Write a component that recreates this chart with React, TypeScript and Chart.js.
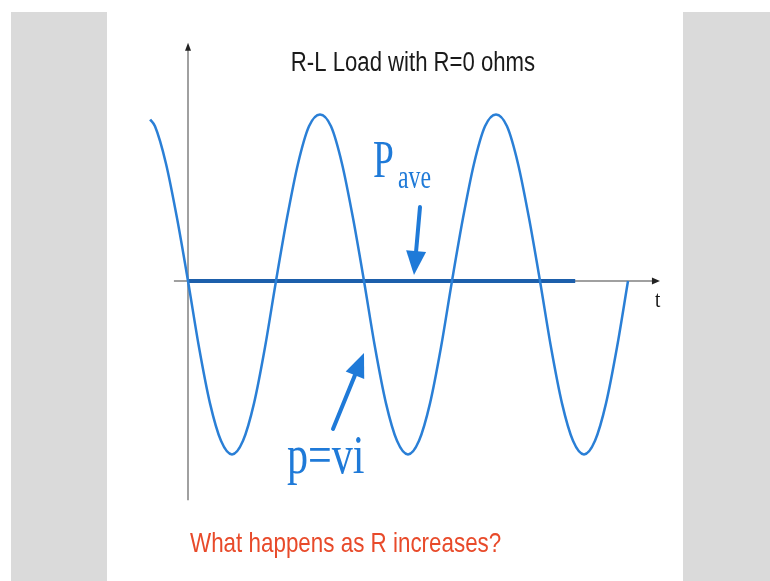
import React, { useEffect, useRef } from "react";
import { Chart, registerables } from "chart.js";

Chart.register(...registerables);

// Instantaneous power p = v·i over time (quarter period = 1 unit of t)
const T_VALUES = [
  -0.86, -0.75, -0.5, -0.25, 0, 0.25, 0.5, 0.75, 1, 1.25, 1.5, 1.75, 2, 2.25, 2.5, 2.75, 3, 3.25, 3.5, 3.75,
  4, 4.25, 4.5, 4.75, 5, 5.25, 5.5, 5.75, 6, 6.25, 6.5, 6.75, 7, 7.25, 7.5, 7.75, 8, 8.25, 8.5, 8.75, 9,
  9.25, 9.5, 9.75, 10,
];
const P_VALUES = [
  0.95, 0.91, 0.69, 0.37, 0, -0.39, -0.72, -0.94, -1.02, -0.94, -0.72, -0.39, 0, 0.37, 0.69, 0.91, 0.98, 0.91, 0.69, 0.37,
  0, -0.39, -0.72, -0.94, -1.02, -0.94, -0.72, -0.39, 0, 0.37, 0.69, 0.91, 0.98, 0.91, 0.69, 0.37, 0, -0.39, -0.72, -0.94, -1.02,
  -0.94, -0.72, -0.39, 0,
];

// Average power: zero for a purely inductive load
const PAVE_T = [0, 8.8];
const PAVE_VALUES = [0, 0];

// Axis extents in data units
const X_AXIS_RANGE = [-0.32, 10.68];
const Y_AXIS_RANGE = [-1.29, 1.39];

const TITLE = "R-L Load with R=0 ohms";
const QUESTION = "What happens as R increases?";

const CURVE_BLUE = "#2a7fd6";
const PAVE_BLUE = "#1d5fab";
const TEXT_BLUE = "#1f7ad8";

function arrow(ctx: CanvasRenderingContext2D, x0: number, y0: number, x1: number, y1: number, color: string, width: number, headLen: number, headHalf: number) {
  const ang = Math.atan2(y1 - y0, x1 - x0);
  const bx = x1 - headLen * Math.cos(ang);
  const by = y1 - headLen * Math.sin(ang);
  ctx.save();
  ctx.strokeStyle = color;
  ctx.fillStyle = color;
  ctx.lineWidth = width;
  ctx.lineCap = "round";
  ctx.beginPath();
  ctx.moveTo(x0, y0);
  ctx.lineTo(bx + 2 * Math.cos(ang), by + 2 * Math.sin(ang));
  ctx.stroke();
  ctx.beginPath();
  ctx.moveTo(x1, y1);
  ctx.lineTo(bx - headHalf * Math.sin(ang), by + headHalf * Math.cos(ang));
  ctx.lineTo(bx + headHalf * Math.sin(ang), by - headHalf * Math.cos(ang));
  ctx.closePath();
  ctx.fill();
  ctx.restore();
}

function squishText(ctx: CanvasRenderingContext2D, text: string, x: number, y: number, font: string, color: string, sx: number, align: CanvasTextAlign = "left") {
  ctx.save();
  ctx.font = font;
  ctx.fillStyle = color;
  ctx.textAlign = align;
  ctx.textBaseline = "alphabetic";
  ctx.translate(x, y);
  ctx.scale(sx, 1);
  ctx.fillText(text, 0, 0);
  ctx.restore();
}

const slidePlugin = {
  id: "slide",
  beforeDraw(chart: any) {
    const { ctx, width, height } = chart;
    ctx.save();
    ctx.fillStyle = "#ffffff";
    ctx.fillRect(0, 0, width, height);
    ctx.fillStyle = "#dadada";
    ctx.fillRect(11, 12, 96, height - 12);
    ctx.fillRect(683, 12, width - 683, height - 12);
    ctx.restore();
  },
  beforeDatasetsDraw(chart: any) {
    const { ctx, scales } = chart;
    const xs = scales.x;
    const ys = scales.y;
    const x0 = xs.getPixelForValue(0);
    const y0 = ys.getPixelForValue(0);
    const xa = xs.getPixelForValue(X_AXIS_RANGE[0]);
    const xb = xs.getPixelForValue(X_AXIS_RANGE[1]);
    const ya = ys.getPixelForValue(Y_AXIS_RANGE[0]);
    const yb = ys.getPixelForValue(Y_AXIS_RANGE[1]);
    ctx.save();
    ctx.strokeStyle = "#a0a0a0";
    ctx.lineWidth = 2;
    ctx.beginPath();
    ctx.moveTo(xa, y0);
    ctx.lineTo(xb - 4, y0);
    ctx.moveTo(x0, ya);
    ctx.lineTo(x0, yb + 4);
    ctx.stroke();
    ctx.fillStyle = "#222222";
    ctx.beginPath();
    ctx.moveTo(xb + 2, y0);
    ctx.lineTo(xb - 6, y0 - 3.5);
    ctx.lineTo(xb - 6, y0 + 3.5);
    ctx.closePath();
    ctx.fill();
    ctx.beginPath();
    ctx.moveTo(x0, yb - 2);
    ctx.lineTo(x0 - 3, yb + 6);
    ctx.lineTo(x0 + 3, yb + 6);
    ctx.closePath();
    ctx.fill();
    ctx.restore();
  },
  afterDraw(chart: any) {
    const { ctx } = chart;
    squishText(ctx, TITLE, 413, 71, "27px 'Liberation Sans', Arial, sans-serif", "#1a1a1a", 0.82, "center");
    squishText(ctx, QUESTION, 190, 552, "28px 'Liberation Sans', Arial, sans-serif", "#e84a2a", 0.8);
    squishText(ctx, "P", 373, 177, "52px 'Liberation Serif', 'Times New Roman', serif", TEXT_BLUE, 0.72);
    squishText(ctx, "ave", 398, 188, "33px 'Liberation Serif', 'Times New Roman', serif", TEXT_BLUE, 0.72);
    squishText(ctx, "p=vi", 287, 473, "54px 'Liberation Serif', 'Times New Roman', serif", TEXT_BLUE, 0.78);
    squishText(ctx, "t", 655, 307, "24px 'Liberation Serif', 'Times New Roman', serif", "#111111", 0.8);
    arrow(ctx, 420, 207, 414, 275, TEXT_BLUE, 4, 24, 10);
    arrow(ctx, 333, 429, 364, 353, TEXT_BLUE, 4, 24, 10);
  },
};

export default function App() {
  const ref = useRef<HTMLCanvasElement | null>(null);
  useEffect(() => {
    if (!ref.current) return;
    const chart = new Chart(ref.current, {
      type: "line",
      data: {
        datasets: [
          {
            label: "Pave",
            data: PAVE_T.map((t, i) => ({ x: t, y: PAVE_VALUES[i] })),
            borderColor: PAVE_BLUE,
            borderWidth: 4,
            pointRadius: 0,
            borderCapStyle: "butt",
            order: 2,
          },
          {
            label: "p=vi",
            data: T_VALUES.map((t, i) => ({ x: t, y: P_VALUES[i] })),
            borderColor: CURVE_BLUE,
            borderWidth: 2.5,
            pointRadius: 0,
            cubicInterpolationMode: "monotone",
            order: 1,
          },
        ],
      },
      options: {
        responsive: false,
        animation: false,
        devicePixelRatio: 1,
        layout: { padding: { left: 144, right: 98, top: 43, bottom: 62 } },
        scales: {
          x: { type: "linear", min: -1, max: 11, display: false },
          y: { type: "linear", min: -1.4, max: 1.4, display: false },
        },
        plugins: {
          legend: { display: false },
          tooltip: { enabled: false },
          title: { display: false },
        },
        elements: { line: { fill: false } },
      },
      plugins: [slidePlugin],
    } as any);
    return () => chart.destroy();
  }, []);
  return (
    <div style={{ position: "fixed", left: 0, top: 0, width: 770, height: 581 }}>
      <canvas ref={ref} width={770} height={581} style={{ display: "block", width: 770, height: 581 }} />
    </div>
  );
}
